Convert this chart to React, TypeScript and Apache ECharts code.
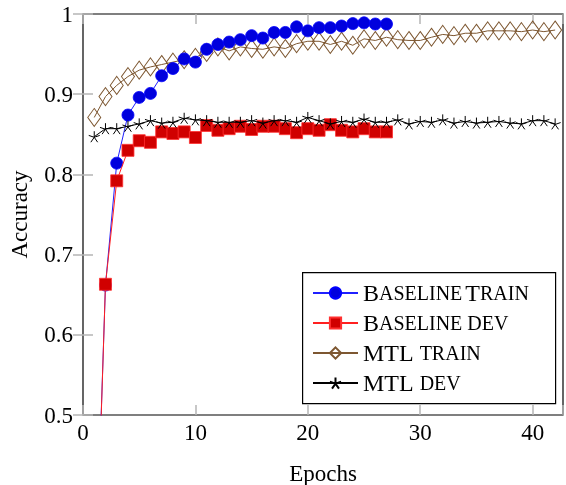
import React, { useEffect, useRef } from "react";
import * as echarts from "echarts";

const baselineTrain = [0.24, 0.662, 0.814, 0.874, 0.896, 0.901, 0.923, 0.932, 0.944, 0.94, 0.956, 0.962, 0.965, 0.968, 0.973, 0.97, 0.977, 0.977, 0.984, 0.979, 0.983, 0.983, 0.985, 0.988, 0.989, 0.9875, 0.9875];
const baselineDev = [0.23, 0.663, 0.792, 0.83, 0.842, 0.84, 0.853, 0.851, 0.853, 0.846, 0.861, 0.855, 0.857, 0.86, 0.856, 0.86, 0.86, 0.857, 0.852, 0.857, 0.855, 0.862, 0.855, 0.853, 0.857, 0.853, 0.853];
const mtlTrain = [0.871, 0.897, 0.911, 0.922, 0.93, 0.934, 0.937, 0.94, 0.943, 0.946, 0.952, 0.959, 0.954, 0.959, 0.957, 0.956, 0.959, 0.957, 0.963, 0.966, 0.966, 0.962, 0.966, 0.961, 0.969, 0.967, 0.971, 0.968, 0.967, 0.967, 0.971, 0.9745, 0.973, 0.976, 0.976, 0.979, 0.979, 0.979, 0.978, 0.98, 0.978, 0.98];
const mtlDev = [0.847, 0.857, 0.857, 0.86, 0.863, 0.867, 0.864, 0.865, 0.87, 0.868, 0.867, 0.865, 0.865, 0.865, 0.867, 0.864, 0.867, 0.867, 0.865, 0.871, 0.867, 0.863, 0.866, 0.865, 0.869, 0.865, 0.865, 0.868, 0.863, 0.866, 0.865, 0.868, 0.864, 0.866, 0.864, 0.865, 0.866, 0.864, 0.863, 0.867, 0.867, 0.863];

const seriesNames = ["Baseline Train", "Baseline dev", "MTL train", "MTL dev"];
const legendLabels: Record<string, string> = {
  "Baseline Train": "{b|B}{s|ASELINE} {b|T}{s|RAIN}",
  "Baseline dev": "{b|B}{s|ASELINE DEV}",
  "MTL train": "{b|MTL }{s|TRAIN}",
  "MTL dev": "{b|MTL }{s|DEV}",
};
const xTicks = [0, 10, 20, 30, 40];
const yTicks = [0.5, 0.6, 0.7, 0.8, 0.9, 1];

const STAR = "path://M0,0L0,-10M0,0L9.51,-3.09M0,0L5.88,8.09M0,0L-5.88,8.09M0,0L-9.51,-3.09";
const FONT = "Liberation Serif";

const toPairs = (arr: number[]) => arr.map((v, i) => [i + 1, v]);

export default function App() {
  const ref = useRef<HTMLDivElement>(null);
  useEffect(() => {
    if (!ref.current) return;
    const chart = echarts.init(ref.current, null, { renderer: "svg" });
    const tickStyle = { show: true, inside: true, length: 10, lineStyle: { color: "#b5b5b5", width: 1.5 } };
    const xBase = { type: "value", min: 0, max: 42.7, interval: 10, splitLine: { show: false }, axisLine: { show: false } };
    const yBase = { type: "value", min: 0.5, max: 1, interval: 0.1, splitLine: { show: false }, axisLine: { show: false } };
    chart.setOption({
      animation: false,
      grid: {
        left: 83, right: 3, top: 14, bottom: 70, show: true, borderColor: "#000", borderWidth: 1.2,
        containLabel: false, outerBoundsMode: "none",
      },
      xAxis: [
        {
          ...xBase,
          position: "bottom",
          axisTick: tickStyle,
          axisLabel: {
            fontFamily: FONT, fontSize: 23, color: "#000", margin: 6,
            formatter: (v: number) => (xTicks.includes(v) ? String(v) : ""),
          },
          name: "Epochs", nameLocation: "middle", nameGap: 47,
          nameTextStyle: { fontFamily: FONT, fontSize: 23, color: "#000" },
        },
        { ...xBase, position: "top", axisTick: tickStyle, axisLabel: { show: false } },
      ],
      yAxis: [
        {
          ...yBase,
          position: "left",
          axisTick: tickStyle,
          axisLabel: {
            fontFamily: FONT, fontSize: 23, color: "#000", margin: 10,
            formatter: (v: number) => {
              const r = Math.round(v * 10) / 10;
              return yTicks.includes(r) ? String(r) : "";
            },
          },
          name: "Accuracy", nameLocation: "middle", nameGap: 52,
          nameTextStyle: { fontFamily: FONT, fontSize: 23, color: "#000" },
        },
        { ...yBase, position: "right", axisTick: tickStyle, axisLabel: { show: false } },
      ],
      legend: {
        orient: "vertical", left: 312, top: 281, itemWidth: 45, itemHeight: 14, itemGap: 6, padding: 0, z: 20,
        data: seriesNames,
        formatter: (name: string) => legendLabels[name] || name,
        textStyle: {
          fontFamily: FONT, color: "#000",
          rich: {
            b: { fontFamily: FONT, fontSize: 24, color: "#000" },
            s: { fontFamily: FONT, fontSize: 20, color: "#000" },
          },
        },
      },
      graphic: [
        {
          type: "rect", left: 302, top: 272, z: 15,
          shape: { width: 253, height: 131 },
          style: { fill: "#fff", stroke: "#000", lineWidth: 1.2 },
        },
      ],
      series: [
        {
          name: seriesNames[2], type: "line", z: 2, data: toPairs(mtlTrain),
          symbol: "diamond", symbolSize: [13, 18], showAllSymbol: true,
          lineStyle: { color: "#7d5731", width: 1 },
          itemStyle: { color: "rgba(255,255,255,0)", borderColor: "#7d5731", borderWidth: 1 },
        },
        {
          name: seriesNames[0], type: "line", z: 3, data: toPairs(baselineTrain),
          symbol: "circle", symbolSize: 12, showAllSymbol: true,
          lineStyle: { color: "#2020ff", width: 1 },
          itemStyle: { color: "#0000dd", borderColor: "#0000ff", borderWidth: 0.8 },
        },
        {
          name: seriesNames[1], type: "line", z: 4, data: toPairs(baselineDev),
          symbol: "rect", symbolSize: 12, showAllSymbol: true,
          lineStyle: { color: "#ff2020", width: 1 },
          itemStyle: { color: "#d00000", borderColor: "#ff3030", borderWidth: 0.8 },
        },
        {
          name: seriesNames[3], type: "line", z: 5, data: toPairs(mtlDev),
          symbol: STAR, symbolSize: 11, showAllSymbol: true,
          lineStyle: { color: "#000", width: 1 },
          itemStyle: { color: "#000", borderColor: "#000", borderWidth: 1 },
        },
      ],
    });
    return () => chart.dispose();
  }, []);
  return <div ref={ref} style={{ position: "fixed", left: 0, top: 0, width: 566, height: 485 }} />;
}
